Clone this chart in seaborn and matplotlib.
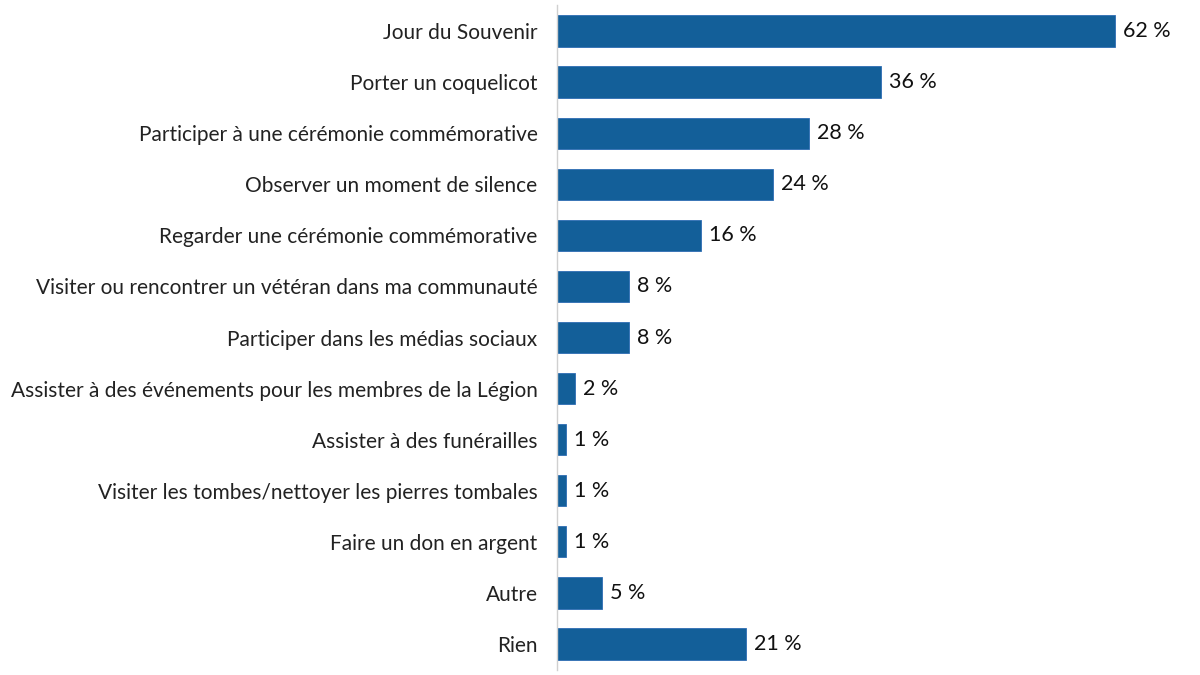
import seaborn as sns
import matplotlib.pyplot as plt
import pandas as pd

activities = [
    "Jour du Souvenir",
    "Porter un coquelicot",
    "Participer à une cérémonie commémorative",
    "Observer un moment de silence",
    "Regarder une cérémonie commémorative",
    "Visiter ou rencontrer un vétéran dans ma communauté",
    "Participer dans les médias sociaux",
    "Assister à des événements pour les membres de la Légion",
    "Assister à des funérailles",
    "Visiter les tombes/nettoyer les pierres tombales",
    "Faire un don en argent",
    "Autre",
    "Rien",
]
percent = [62, 36, 28, 24, 16, 8, 8, 2, 1, 1, 1, 5, 21]

df = pd.DataFrame({"activity": activities, "percent": percent})

sns.set_style("white")
plt.rcParams["font.family"] = ["Lato", "DejaVu Sans"]

fig = plt.figure(figsize=(12, 6.75), dpi=100)
ax = fig.add_axes([0.4642, 0.008, 0.495, 0.984])

sns.barplot(data=df, x="percent", y="activity", color="#135F99",
            width=0.61, edgecolor="#2E6DB4", linewidth=0.6, ax=ax,
            saturation=1)

for i, v in enumerate(percent):
    ax.text(v + 0.85, i, f"{v} %", va="center", ha="left", fontsize=15.5,
            color="#111111")

ax.set_xlim(0, 66)
ax.set_ylim(12.5, -0.5)
ax.set_xlabel("")
ax.set_ylabel("")
ax.set_xticks([])
ax.tick_params(axis="y", length=0, pad=14, labelsize=15, labelcolor="#222222")
for side in ["top", "right", "bottom"]:
    ax.spines[side].set_visible(False)
ax.spines["left"].set_color("#D0D0D0")
ax.spines["left"].set_linewidth(1)

fig.savefig("out.png", dpi=100)
